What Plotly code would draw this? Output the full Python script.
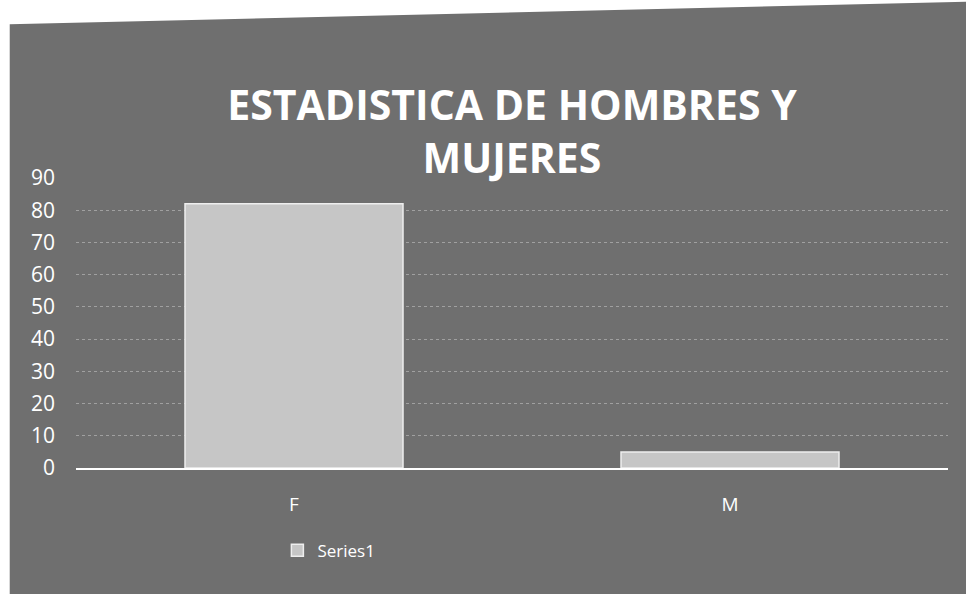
import plotly.graph_objects as go

# Chart data
categories = ["F", "M"]
values = [82, 5]
series_name = "Series1"
y_ticks = [0, 10, 20, 30, 40, 50, 60, 70, 80, 90]

bg = "#6f6f6f"
fg = "#ffffff"

fig = go.Figure()
fig.add_trace(go.Bar(
    x=categories,
    y=values,
    name=series_name,
    marker=dict(color="#c6c6c6", line=dict(color="#eeeeee", width=1.5)),
    showlegend=True,
))

fig.update_layout(
    width=966,
    height=594,
    paper_bgcolor="#ffffff",
    plot_bgcolor="rgba(0,0,0,0)",
    margin=dict(l=76, r=18, t=178, b=126),
    bargap=0.5,
    title=dict(
        text="<b>ESTADISTICA DE HOMBRES Y<br>MUJERES</b>",
        x=0.53, xanchor="center",
        y=0.798, yanchor="middle",
        font=dict(family="Open Sans", size=41, color=fg),
    ),
    font=dict(family="Open Sans", color=fg),
    legend=dict(
        orientation="h",
        x=0.29, xanchor="center",
        y=-0.285, yanchor="middle",
        font=dict(size=17, color=fg),
        bgcolor="rgba(0,0,0,0)",
    ),
    xaxis=dict(
        showgrid=False,
        showline=True,
        linecolor=fg,
        linewidth=2,
        ticks="",
        tickfont=dict(size=19, color=fg),
        ticklabelstandoff=18,
    ),
    yaxis=dict(
        range=[0, 90],
        tickvals=y_ticks,
        showgrid=True,
        gridcolor="#a0a0a0",
        griddash="dot",
        gridwidth=1,
        zeroline=False,
        ticks="",
        tickfont=dict(size=21, color=fg),
        ticklabelstandoff=20,
    ),
    shapes=[
        # chart area, slightly skewed like the page it sits on
        dict(
            type="path", xref="paper", yref="paper", layer="below",
            path="M -0.076 1.53 L 1.05 1.61 L 1.05 -0.5 L -0.076 -0.5 Z",
            fillcolor=bg, line=dict(width=0),
        ),
    ],
)

fig.write_html("out.html")
